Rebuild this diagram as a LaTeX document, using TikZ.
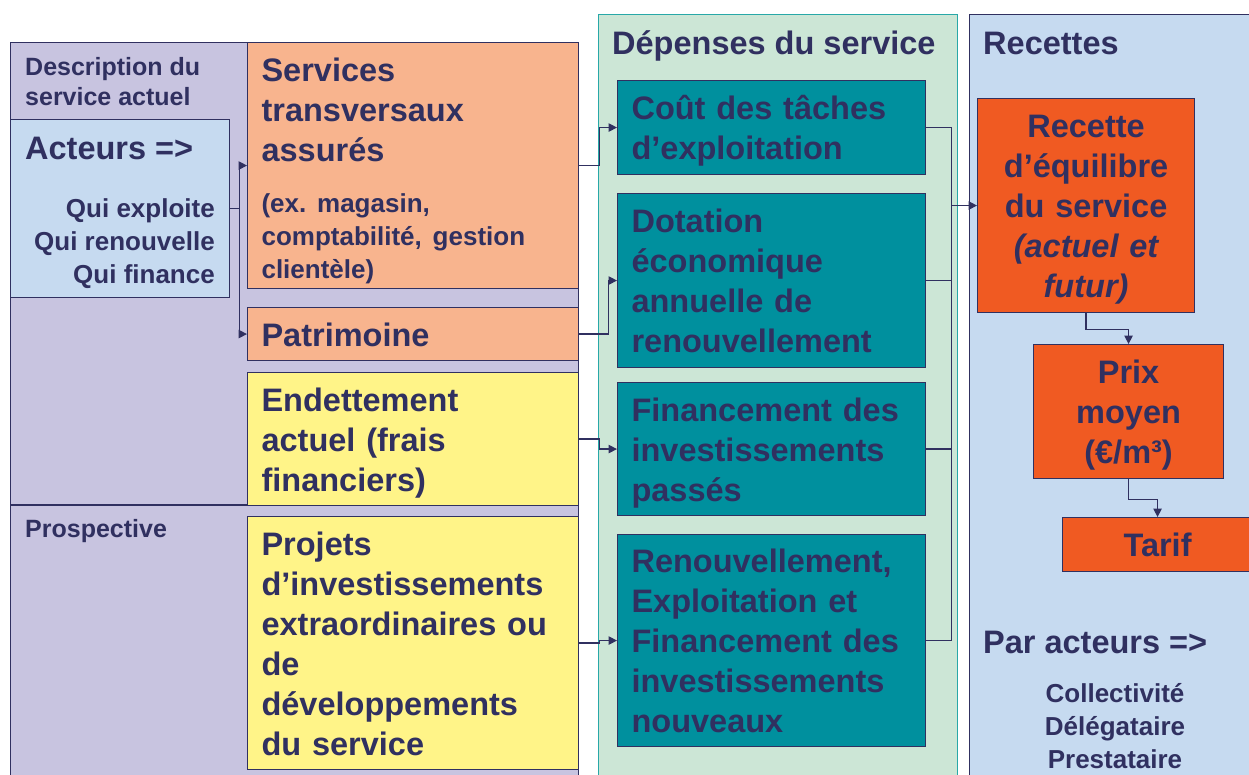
\documentclass[tikz,border=0pt]{standalone}
\usepackage{fontspec}
\setmainfont{Liberation Sans}
\usetikzlibrary{arrows.meta}
\frenchspacing

\definecolor{ink}{RGB}{48,48,96}
\definecolor{lavender}{RGB}{200,196,224}
\definecolor{skyblue}{RGB}{198,218,240}
\definecolor{salmon}{RGB}{248,180,142}
\definecolor{lemon}{RGB}{255,244,136}
\definecolor{mint}{RGB}{204,230,214}
\definecolor{tealline}{RGB}{40,168,168}
\definecolor{petrol}{RGB}{0,144,158}
\definecolor{flame}{RGB}{240,90,34}

\newcommand\txtL{\fontsize{32.5}{40}\selectfont\bfseries}
\newcommand\txtS{\fontsize{26}{33}\selectfont\bfseries}
\newcommand\txtD{\fontsize{25}{30}\selectfont\bfseries}
\newcommand\lastline{\rule[-9pt]{0pt}{1pt}}

\begin{document}
\begin{tikzpicture}[x=1pt,y=-1pt,
  panel/.style={anchor=north west,inner sep=0pt,line width=1.1pt},
  box/.style={draw=ink,line width=1.1pt,anchor=north west,inner xsep=14pt,inner ysep=0pt,align=left,text=ink,font=\txtL,
    execute at begin node={\rule{0pt}{33pt}}},
  cell/.style={box,execute at end node={\lastline}},
  tag/.style={anchor=base west,inner sep=0pt,text=ink,align=left},
  wire/.style={draw=ink,line width=1.2pt},
  link/.style={wire,-{Triangle[length=8.5pt,width=8.5pt]}}]

  \useasboundingbox (0,0) rectangle (1249,774);
  \clip (0,0) rectangle (1249,774);
  \fill[white] (0,0) rectangle (1249,774);

  % panels
  \node[panel,draw=ink,fill=lavender,minimum width=568pt,minimum height=760pt] (actuel) at (10,42) {};
  \draw[wire] (10,505) -- (578,505);
  \node[panel,draw=tealline,fill=mint,minimum width=359pt,minimum height=780pt] (depenses) at (598,14) {};
  \node[panel,draw=ink,fill=skyblue,minimum width=300pt,minimum height=780pt] (recettes) at (969,14) {};

  \node[tag,anchor=west,font=\txtD] (titreDesc) at (25,82) {Description du\\service actuel};
  \node[tag,font=\txtD] (titrePro) at (25,537) {Prospective};
  \node[tag,font=\txtL] (titreDep) at (612,54) {Dépenses du service};
  \node[tag,font=\txtL] (titreRec) at (983,54) {Recettes};

  % acteurs
  \node[panel,draw=ink,fill=skyblue,minimum width=219pt,minimum height=178pt] (acteurs) at (10,119) {};
  \node[tag,font=\txtL] (acteursT) at (25,159) {Acteurs =>};
  \node[tag,anchor=east,align=right,font=\txtS] (qui) at (215,244) {Qui exploite\\Qui renouvelle\\Qui finance};

  % left column
  \node[box,fill=salmon,text width=303pt,minimum height=246pt] (services) at (247,42)
    {\rule{0pt}{37pt}Services\\transversaux\\assurés\\[18pt]\txtS(ex. magasin,\\comptabilité, gestion\\clientèle)\lastline\par};
  \node[cell,fill=salmon,text width=303pt,minimum height=53pt] (patrimoine) at (247,307) {Patrimoine};
  \node[cell,fill=lemon,text width=303pt,minimum height=133pt] (endettement) at (247,372)
    {Endettement\\actuel (frais\\financiers)};
  \node[cell,fill=lemon,text width=303pt,minimum height=253pt] (projets) at (247,516)
    {Projets\\d’investissements\\extraordinaires ou\\de\\développements\\du service};

  % depenses
  \node[cell,fill=petrol,text width=280pt,minimum height=94pt] (cout) at (617,80)
    {Coût des tâches\\d’exploitation};
  \node[cell,fill=petrol,text width=280pt,minimum height=174pt] (dotation) at (617,193)
    {Dotation\\économique\\annuelle de\\renouvellement};
  \node[cell,fill=petrol,text width=280pt,minimum height=133pt] (financement) at (617,382)
    {Financement des\\investissements\\passés};
  \node[cell,fill=petrol,text width=280pt,minimum height=212pt] (renouv) at (617,534)
    {Renouvellement,\\Exploitation et\\Financement des\\investissements\\nouveaux};

  % recettes
  \node[cell,fill=flame,align=center,text width=189pt,minimum height=214pt] (recette) at (977,98)
    {Recette\\d’équilibre\\du service\\\itshape(actuel et\\\itshape futur)};
  \node[cell,fill=flame,align=center,text width=162pt,minimum height=134pt] (prix) at (1033,344)
    {Prix\\moyen\\(€/m³)};
  \node[cell,fill=flame,align=center,text width=162pt,minimum height=54pt] (tarif) at (1062,517) {Tarif};

  \node[tag,font=\txtL] (parActeurs) at (983,653) {Par acteurs =>};
  \node[tag,anchor=center,align=center,font=\txtS] (roles) at (1115,726)
    {Collectivité\\Délégataire\\Prestataire};

  % connectors
  \draw[wire] (acteurs.east) -- ++(9,0) coordinate (fourche);
  \draw[link] (fourche) |- (services.west);
  \draw[link] (fourche) |- (patrimoine.west);

  \draw[link] (services.east) -- ++(20,0) |- (cout.west); %% services -> cout
  \draw[link] (patrimoine.east) -- ++(29,0) |- (dotation.west); %% patrimoine -> dotation
  \draw[link] (endettement.east) -- ++(20,0) |- (financement.west);
  \draw[link] (projets.east) -- ++(20,0) |- (renouv.west);

  \draw[wire] (cout.east) -- ++(25,0) coordinate (bus) -- (bus |- renouv.east) -- (renouv.east);
  \draw[wire] (dotation.east) -- (bus |- dotation.east);
  \draw[wire] (financement.east) -- (bus |- financement.east);
  \draw[link] (bus |- recette.west) -- (recette.west); %% bus -> recette

  \draw[link] (recette.south) -- ++(0,16) -| (prix.north);
  \draw[link] (prix.south) -- ++(0,20) -| (tarif.north);
\end{tikzpicture}
\end{document}
